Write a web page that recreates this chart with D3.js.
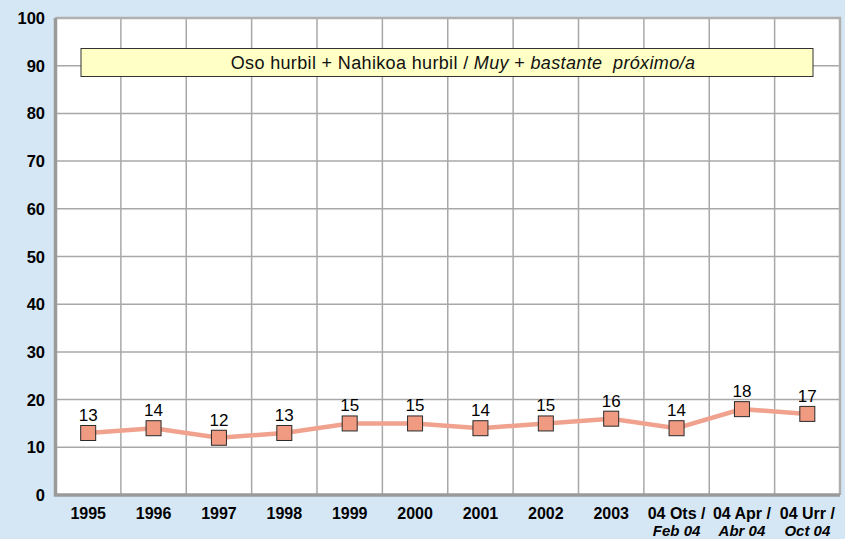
<!DOCTYPE html>
<html>
<head>
<meta charset="utf-8">
<script src="https://cdn.jsdelivr.net/npm/d3@7"></script>
<style>
  body { margin: 0; background: #d5e7f5; }
  svg { display: block; font-family: "Liberation Sans", Arial, sans-serif; }
</style>
</head>
<body>
<svg id="main" width="845" height="539"></svg>
<script>
// categories: first line basque / second line spanish
var labelsTop = ["1995", "1996", "1997", "1998", "1999", "2000", "2001", "2002", "2003", "04 Ots /", "04 Apr /", "04 Urr /"];
var labelsBottom = ["", "", "", "", "", "", "", "", "", "Feb 04", "Abr 04", "Oct 04"];
var values = [13, 14, 12, 13, 15, 15, 14, 15, 16, 14, 18, 17];
var yTicks = [0, 10, 20, 30, 40, 50, 60, 70, 80, 90, 100];

const svg = d3.select('svg#main');
const plotLeft = 55.5, plotRight = 840, plotTop = 18, plotBottom = 495;

var x = d3.scaleBand().domain(labelsTop).range([plotLeft, plotRight]);
var y = d3.scaleLinear().domain([0, 100]).range([plotBottom, plotTop]);

// plot background
svg.append('rect')
    .attr('x', plotLeft).attr('y', plotTop)
    .attr('width', plotRight - plotLeft).attr('height', plotBottom - plotTop)
    .attr('fill', 'white');

// grid
svg.append('g').selectAll('line').data(yTicks.slice(1))
    .join('line')
    .attr('x1', plotLeft).attr('x2', plotRight)
    .attr('y1', d => y(d)).attr('y2', d => y(d))
    .attr('stroke', '#a8a8a8').attr('stroke-width', 1.5);

svg.append('g').selectAll('line').data(labelsTop.slice(1))
    .join('line')
    .attr('x1', d => x(d)).attr('x2', d => x(d))
    .attr('y1', plotTop).attr('y2', plotBottom)
    .attr('stroke', '#a8a8a8').attr('stroke-width', 1.5);

// frame: light top/right, heavy left/bottom
svg.append('path')
    .attr('d', `M ${plotLeft} ${plotTop} L ${plotRight} ${plotTop} L ${plotRight} ${plotBottom}`)
    .attr('fill', 'none').attr('stroke', '#b0b0b0').attr('stroke-width', 2.5);
svg.append('path')
    .attr('d', `M ${plotLeft} ${plotTop} L ${plotLeft} ${plotBottom} L ${plotRight} ${plotBottom}`)
    .attr('fill', 'none').attr('stroke', '#9a9a9a').attr('stroke-width', 3.5);

// y axis labels
svg.append('g').selectAll('text').data(yTicks)
    .join('text')
    .attr('x', 45).attr('y', d => y(d) + 6)
    .attr('text-anchor', 'end')
    .attr('font-size', 16.5).attr('font-weight', 'bold')
    .text(d => d);

// x axis labels
var xl = svg.append('g').selectAll('g').data(labelsTop)
    .join('g');
xl.append('text')
    .attr('x', d => x(d) + x.bandwidth() / 2).attr('y', 518.5)
    .attr('text-anchor', 'middle')
    .attr('font-size', 16).attr('font-weight', 'bold')
    .text(d => d);
xl.append('text')
    .attr('x', (d, i) => x(d) + x.bandwidth() / 2).attr('y', 535.5)
    .attr('text-anchor', 'middle')
    .attr('font-size', 15).attr('font-weight', 'bold').attr('font-style', 'italic')
    .text((d, i) => labelsBottom[i]);

// title box
svg.append('rect')
    .attr('x', 81).attr('y', 48.5).attr('width', 732).attr('height', 28)
    .attr('fill', '#ffffc6').attr('stroke', '#333').attr('stroke-width', 1);
var title = svg.append('text')
    .attr('x', 463).attr('y', 69)
    .attr('text-anchor', 'middle')
    .attr('font-size', 18).attr('letter-spacing', 0.35)
    .attr('fill', '#111');
title.append('tspan').text('Oso hurbil + Nahikoa hurbil / ');
title.append('tspan').attr('font-style', 'italic').text('Muy');
title.append('tspan').text(' + ');
title.append('tspan').attr('font-style', 'italic').attr('xml:space', 'preserve').text('bastante  próximo/a');

// series
var pts = labelsTop.map((c, i) => ({ c: c, v: values[i] }));
var line = d3.line()
    .x(d => x(d.c) + x.bandwidth() / 2)
    .y(d => y(d.v));

svg.append('path').datum(pts)
    .attr('d', line)
    .attr('fill', 'none')
    .attr('stroke', '#f0a28e').attr('stroke-width', 4.5);

var ms = 15;
svg.append('g').selectAll('rect').data(pts)
    .join('rect')
    .attr('x', d => x(d.c) + x.bandwidth() / 2 - ms / 2)
    .attr('y', d => y(d.v) - ms / 2)
    .attr('width', ms).attr('height', ms)
    .attr('fill', '#f09a82').attr('stroke', '#2a2a2a').attr('stroke-width', 1);

svg.append('g').selectAll('text').data(pts)
    .join('text')
    .attr('x', d => x(d.c) + x.bandwidth() / 2)
    .attr('y', d => y(d.v) - 12)
    .attr('text-anchor', 'middle')
    .attr('font-size', 17)
    .text(d => d.v);
</script>
</body>
</html>
